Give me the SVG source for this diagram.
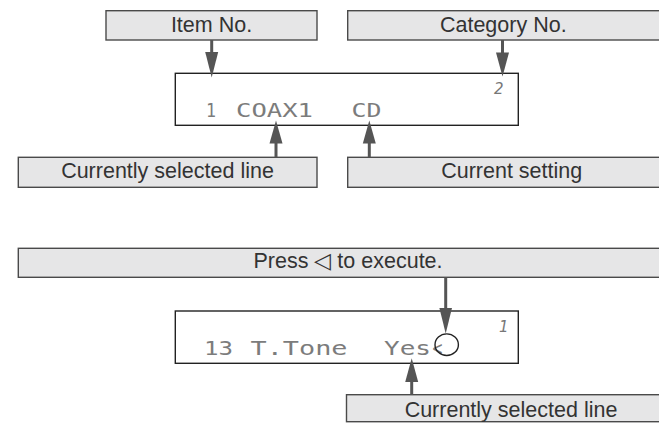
<svg xmlns="http://www.w3.org/2000/svg" width="659" height="423" viewBox="0 0 659 423">
<defs>
<style>
.box{fill:#e6e6e7;stroke:#4a4a4a;stroke-width:1.4}
.lbl{font-family:"Liberation Sans",Arial,sans-serif;font-size:21.5px;fill:#333;text-anchor:middle}
.lcd{fill:#fff;stroke:#222;stroke-width:1.4}
.dm{font-family:"DejaVu Sans Mono","Liberation Mono",monospace;font-size:19px;fill:#7c7c7c}
.seg{font-family:"DejaVu Sans","Liberation Sans",sans-serif;font-style:italic;font-weight:200;font-size:15px;fill:#777}
.ln{stroke:#555;stroke-width:3;fill:none}
.hd{fill:#555}
</style>
</defs>
<rect width="659" height="423" fill="#fff"/>

<g id="item-no"><rect class="box" x="106" y="10.7" width="211" height="29.3"/><text class="lbl" x="211.5" y="31.5">Item No.</text></g>
<g id="category-no"><rect class="box" x="347.7" y="10.7" width="320" height="29.3"/><text class="lbl" x="503.3" y="31.5">Category No.</text></g>

<g id="lcd1">
<rect class="lcd" x="175.3" y="73.3" width="343" height="52"/>
<text class="dm" x="206" y="116.7" textLength="10" lengthAdjust="spacingAndGlyphs">1</text>
<text class="dm" x="236" y="116.7" textLength="77" lengthAdjust="spacingAndGlyphs">COAX1</text>
<text class="dm" x="351.5" y="116.7" textLength="30" lengthAdjust="spacingAndGlyphs">CD</text>
<text class="seg" x="494" y="93.5">2</text>
</g>

<g id="currently-selected-1"><rect class="box" x="18.3" y="157.3" width="298.7" height="30"/><text class="lbl" x="167.5" y="178">Currently selected line</text></g>
<g id="current-setting"><rect class="box" x="347.7" y="157.3" width="330" height="30"/><text class="lbl" x="511.7" y="178">Current setting</text></g>

<g id="press"><rect class="box" x="18.3" y="248.3" width="660" height="29"/><text class="lbl" x="348" y="268">Press ◁ to execute.</text></g>

<g id="lcd2">
<rect class="lcd" x="175.3" y="311" width="343" height="52.3"/>
<text class="dm" x="204" y="355" textLength="29" lengthAdjust="spacingAndGlyphs">13</text>
<text class="dm" x="250.5" y="355" textLength="97" lengthAdjust="spacingAndGlyphs">T.Tone</text>
<text class="dm" x="384" y="355" textLength="47" lengthAdjust="spacingAndGlyphs">Yes</text>
<text class="dm" x="432.5" y="355" font-size="27" textLength="10" lengthAdjust="spacingAndGlyphs">&lt;</text>
<ellipse cx="446.7" cy="344.7" rx="11.7" ry="10.8" fill="none" stroke="#222" stroke-width="1.4"/>
<text class="seg" x="499" y="332">1</text>
</g>

<g id="currently-selected-2"><rect class="box" x="346.5" y="394.7" width="330" height="27"/><text class="lbl" x="511" y="416.5">Currently selected line</text></g>

<g id="connectors">
<line class="ln" x1="211.7" y1="40" x2="211.7" y2="54"/><polygon class="hd" points="205.2,52 218.2,52 211.7,77.5"/>
<line class="ln" x1="502.5" y1="40" x2="502.5" y2="54"/><polygon class="hd" points="496,52.5 509,52.5 502.5,76.5"/>
<line class="ln" x1="276" y1="157.3" x2="276" y2="141"/><polygon class="hd" points="269.5,143.5 282.5,143.5 276,120.5"/>
<line class="ln" x1="369.3" y1="157.3" x2="369.3" y2="141"/><polygon class="hd" points="362.8,143.5 375.8,143.5 369.3,120.5"/>
<line class="ln" x1="445.7" y1="277.3" x2="445.7" y2="310"/><polygon class="hd" points="439.4,308 452,308 445.7,333.5"/>
<line class="ln" x1="411.7" y1="394.7" x2="411.7" y2="380"/><polygon class="hd" points="405.2,382 418.2,382 411.7,358.3"/>
</g>
</svg>
